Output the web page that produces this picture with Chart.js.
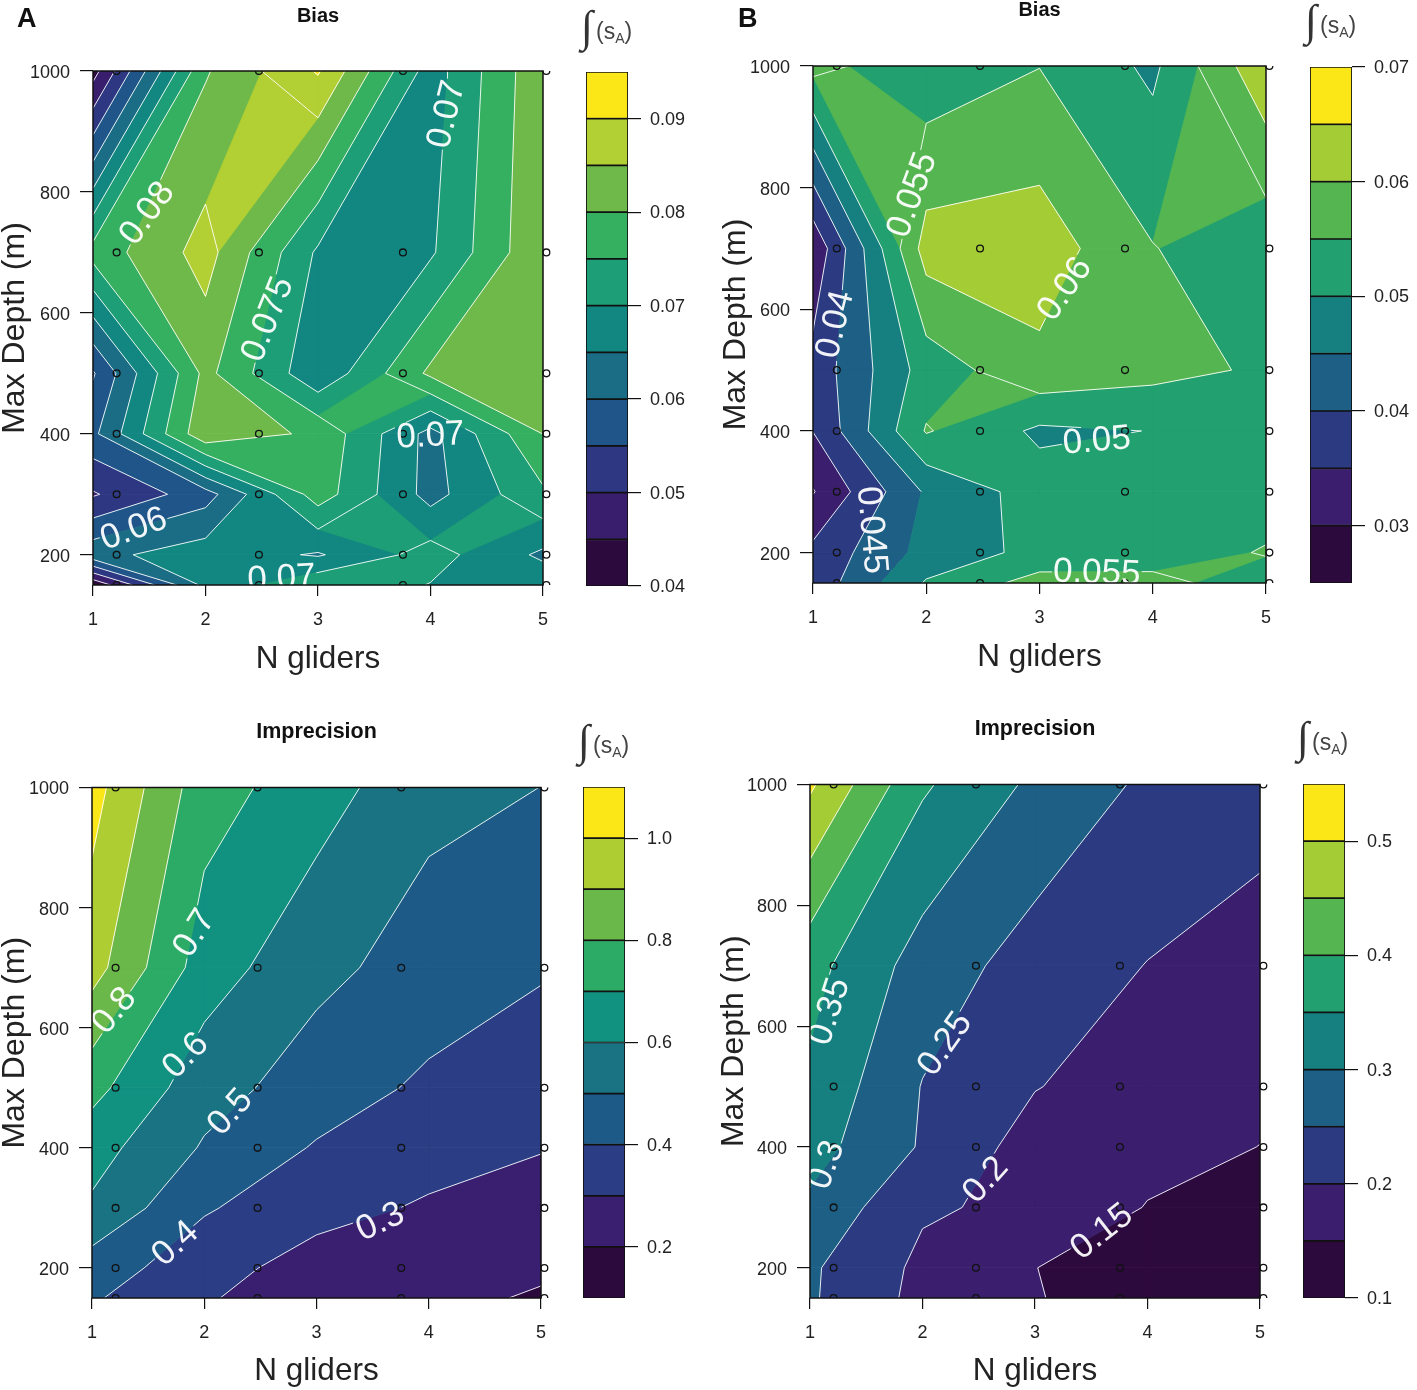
<!DOCTYPE html>
<html><head><meta charset="utf-8">
<script src="https://cdn.jsdelivr.net/npm/chart.js@4"></script>
<style>
html,body{margin:0;padding:0;background:#fff;overflow:hidden}
body{width:1417px;height:1390px;position:relative;font-family:"Liberation Sans",Arial,sans-serif;color:#222}
canvas{position:absolute;filter:blur(.35px)}
.t{position:absolute;white-space:nowrap;line-height:1}
</style></head><body>
<script>
// grid of the runs
const nGliders=[1,2,3,4,5];
const maxDepths=[1000,700,500,400,300,200,150];
// sample markers
const markerX=[1.21,2.475,3.755,5.03];
const markerY=[1000,700,500,400,300,200,150];

// values, one row per depth (maxDepths), one column per glider count
const zBiasA=[
[.043,.0795,.0905,.0675,.084],
[.077,.087,.0692,.0693,.0845],
[.0545,.0815,.066,.081,.083],
[.0588,.0839,.0788,.0633,.0801],
[.0495,.0578,.0775,.0632,.0741],
[.0635,.0677,.0645,.0721,.064],
[.041,.0665,.0739,.0698,.0685]];
const zBiasB=[
[.0565,.0517,.0549,.049,.064],
[.031,.0622,.0627,.0552,.0515],
[.0369,.0522,.0587,.0566,.0543],
[.0351,.0554,.0491,.0501,.053],
[.0297,.0457,.0523,.053,.053],
[.0363,.0467,.0515,.053,.0553],
[.0368,.0505,.057,.0562,.0529]];
const zImpA=[
[1.038,.742,.647,.525,.4995],
[.94,.651,.525,.46,.41],
[.732,.539,.454,.381,.342],
[.64,.49,.391,.34,.304],
[.584,.41,.335,.288,.265],
[.452,.34,.257,.25,.215],
[.411,.31,.24,.225,.19]];
const zImpB=[
[.508,.357,.29,.241,.22],
[.3675,.278,.228,.1987,.179],
[.34,.248,.202,.175,.16],
[.32,.245,.178,.165,.1495],
[.29,.206,.189,.148,.13],
[.257,.189,.1505,.13,.115],
[.256,.185,.153,.122,.11]];

// band edges
const levelsBiasA=[.04,.045,.05,.055,.06,.065,.07,.075,.08,.085,.09,.095];
const levelsBiasB=[.025,.03,.035,.04,.045,.05,.055,.06,.065,.07];
const levelsImpA=[.1,.2,.3,.4,.5,.6,.7,.8,.9,1.0,1.1];
const levelsImpB=[.1,.15,.2,.25,.3,.35,.4,.45,.5,.55];
// colour-bar tick labels
const barTicksBiasA=[.04,.05,.06,.07,.08,.09];
const barTicksBiasB=[.03,.04,.05,.06,.07];
const barTicksImpA=[.2,.4,.6,.8,1.0];
const barTicksImpB=[.1,.2,.3,.4,.5];
const xTicks=[1,2,3,4,5];
const yTicks=[200,400,600,800,1000];

// contour labels: text, level, x, y, angle
const labelsBiasA=[["0.08",.08,1.485,764,-54],["0.075",.075,2.557,589,-68],["0.07",.07,4.146,928,-76],["0.07",.07,4.0,396,-3],["0.06",.06,1.365,242,-20],["0.07",.07,2.676,160,-3]];
const labelsBiasB=[["0.055",.055,1.88,788,-70],["0.06",.06,3.227,633,-55],["0.04",.04,1.2,575,-76],["0.05",.05,3.506,383,-5],["0.045",.045,1.514,237,85],["0.055",.055,3.506,166,2]];
const labelsImpA=[["0.8",.8,1.2,628,-50],["0.7",.7,1.916,757,-58],["0.6",.6,1.837,553,-45],["0.5",.5,2.235,459,-48],["0.4",.4,1.745,240,-42],["0.3",.3,3.57,276,-25]];
const labelsImpB=[["0.35",.35,1.176,624,-72],["0.25",.25,2.204,570,-55],["0.3",.3,1.148,370,-70],["0.2",.2,2.564,345,-48],["0.15",.15,3.596,259,-38]];

const pal9=["#2d0a3e","#3b1f6e","#2c3a82","#1d5f85","#168080","#22a070","#55b651","#a3cc35","#fbe718"];
const pal10=["#2d0a3e","#3a1f70","#2b3d84","#1e5a87","#1a7383","#119180","#2bab66","#6ab84a","#aecd33","#fbe718"];
const pal11=["#2d0a3e","#3a1e6e","#2e3882","#20558a","#1b6c85","#128680","#1e9e76","#35b060","#6eb94a","#b2cf33","#fbe718"];

const panels=[
 {z:zBiasA,levels:levelsBiasA,pal:pal11,barTicks:barTicksBiasA,labels:labelsBiasA,fmt:2,title:"Bias",
  plot:{l:93,r:543,t:72,b:585},bar:{l:586,r:628,t:72,b:586},titleCy:17,xlCy:657,ylCx:15,sym:[582,8]},
 {z:zBiasB,levels:levelsBiasB,pal:pal9,barTicks:barTicksBiasB,labels:labelsBiasB,fmt:2,title:"Bias",
  hide:[[.045,1.4,2.1,150,345]],
  plot:{l:813,r:1266,t:67,b:583},bar:{l:1310,r:1352,t:67,b:583},titleCy:11,xlCy:655,ylCx:736,sym:[1306,2]},
 {z:zImpA,levels:levelsImpA,pal:pal10,barTicks:barTicksImpA,labels:labelsImpA,fmt:1,title:"Imprecision",
  plot:{l:92,r:541,t:787,b:1298},bar:{l:583,r:625,t:787,b:1298},titleCy:732,xlCy:1369,ylCx:15,sym:[579,722]},
 {z:zImpB,levels:levelsImpB,pal:pal9,barTicks:barTicksImpB,labels:labelsImpB,fmt:1,title:"Imprecision",
  plot:{l:810,r:1260,t:784,b:1298},bar:{l:1303,r:1345,t:784,b:1298},titleCy:729,xlCy:1369,ylCx:734,sym:[1298,719]}
];

const FONT='"Liberation Sans",Arial,sans-serif';
const measure=document.createElement('canvas').getContext('2d');

function lerp(a,b,t){return a+(b-a)*t}
function cellCorners(z,i,j){ // counter-clockwise from lower-left
  const xl=nGliders[i],xh=nGliders[i+1],yh=maxDepths[j],yl=maxDepths[j+1];
  return [{x:xl,y:yl,v:z[j+1][i]},{x:xh,y:yl,v:z[j+1][i+1]},{x:xh,y:yh,v:z[j][i+1]},{x:xl,y:yh,v:z[j][i]}];
}
// band polygon of one cell: walk round the cell's edge
function bandPolygon(c,lo,hi){
  const out=[];
  for(let k=0;k<4;k++){
    const a=c[k],b=c[(k+1)%4];
    if(a.v>=lo&&a.v<hi)out.push({x:a.x,y:a.y});
    const cuts=[];
    [lo,hi].forEach(L=>{
      if((a.v<L&&b.v>=L)||(a.v>=L&&b.v<L)){const t=(L-a.v)/(b.v-a.v);cuts.push(t)}
    });
    cuts.sort((p,q)=>p-q).forEach(t=>out.push({x:lerp(a.x,b.x,t),y:lerp(a.y,b.y,t)}));
  }
  if(out.length>=3)out.push({...out[0]});
  return out;
}
function contourSegments(z,L){
  const segs=[];
  for(let j=0;j<maxDepths.length-1;j++)for(let i=0;i<nGliders.length-1;i++){
    const c=cellCorners(z,i,j),pts=[];
    for(let k=0;k<4;k++){
      const a=c[k],b=c[(k+1)%4];
      if((a.v<L)!==(b.v<L)){const t=(L-a.v)/(b.v-a.v);pts.push({x:lerp(a.x,b.x,t),y:lerp(a.y,b.y,t),e:k})}
    }
    if(pts.length===2)segs.push([pts[0],pts[1]]);
    else if(pts.length===4){
      const mid=(c[0].v+c[1].v+c[2].v+c[3].v)/4;
      const aHigh=c[0].v>=L;
      // keep high corners apart when the centre is low, low corners apart when it is high
      if(aHigh===(mid<L)){segs.push([pts[3],pts[0]]);segs.push([pts[1],pts[2]])}
      else{segs.push([pts[0],pts[1]]);segs.push([pts[2],pts[3]])}
    }
  }
  return segs;
}
// remove the stretch of a contour that lies under its own label
function cutByLabels(seg,L,p){
  const toPx=q=>({x:p.plot.l+(q.x-1)/4*(p.plot.r-p.plot.l),y:p.plot.t+(1000-q.y)/850*(p.plot.b-p.plot.t)});
  let ranges=[[0,1]];
  const A=toPx(seg[0]),B=toPx(seg[1]);
  p.labels.forEach(lb=>{
    if(Math.abs(lb[1]-L)>1e-9)return;
    measure.font='35px '+FONT;
    const hw=measure.measureText(lb[0]).width/2+1,hh=15;
    const C=toPx({x:lb[2],y:lb[3]}),r=lb[4]*Math.PI/180,cs=Math.cos(r),sn=Math.sin(r);
    const loc=P=>({u:(P.x-C.x)*cs+(P.y-C.y)*sn,v:-(P.x-C.x)*sn+(P.y-C.y)*cs});
    const a=loc(A),b=loc(B);
    let t0=0,t1=1,ok=true;
    [[a.u,b.u,hw],[a.v,b.v,hh]].forEach(([s,e,h])=>{
      const d=e-s;
      if(Math.abs(d)<1e-9){if(Math.abs(s)>h)ok=false;return}
      let ta=(-h-s)/d,tb=(h-s)/d;if(ta>tb)[ta,tb]=[tb,ta];
      t0=Math.max(t0,ta);t1=Math.min(t1,tb);
    });
    if(!ok||t0>=t1)return;
    const next=[];
    ranges.forEach(([s,e])=>{
      if(t0>s)next.push([s,Math.min(e,t0)]);
      if(t1<e)next.push([Math.max(s,t1),e]);
    });
    ranges=next.filter(q=>q[1]>q[0]);
  });
  return ranges.map(([s,e])=>[{x:lerp(seg[0].x,seg[1].x,s),y:lerp(seg[0].y,seg[1].y,s)},{x:lerp(seg[0].x,seg[1].x,e),y:lerp(seg[0].y,seg[1].y,e)}]);
}
function hidden(seg,L,p){
  return (p.hide||[]).some(h=>{
    if(Math.abs(h[0]-L)>1e-9)return false;
    const mx=(seg[0].x+seg[1].x)/2,my=(seg[0].y+seg[1].y)/2;
    return mx>=h[1]&&mx<=h[2]&&my>=h[3]&&my<=h[4];
  });
}

const panelDecor={
  id:'panelDecor',
  afterDatasetsDraw(chart,args,opts){
    const {ctx,chartArea:a,scales:{x,y}}=chart;
    ctx.save();
    ctx.beginPath();ctx.rect(a.left,a.top,a.right-a.left,a.bottom-a.top);ctx.clip();
    ctx.fillStyle='rgba(255,255,255,.94)';
    ctx.font='35px '+FONT;ctx.textAlign='center';ctx.textBaseline='middle';
    opts.labels.forEach(lb=>{
      ctx.save();
      ctx.translate(x.getPixelForValue(lb[2]),y.getPixelForValue(lb[3]));
      ctx.rotate(lb[4]*Math.PI/180);
      ctx.fillText(lb[0],0,0);
      ctx.restore();
    });
    ctx.restore();
    ctx.save();
    ctx.strokeStyle='#111';ctx.lineWidth=1.5;
    ctx.strokeRect(a.left,a.top,a.right-a.left,a.bottom-a.top);
    ctx.restore();
  }
};

function addCanvas(l,t,w,h){
  const c=document.createElement('canvas');
  c.width=w;c.height=h;c.style.left=l+'px';c.style.top=t+'px';c.style.width=w+'px';c.style.height=h+'px';
  document.body.appendChild(c);return c;
}
function addText(txt,l,t,css){
  const d=document.createElement('div');d.className='t';d.innerHTML=txt;
  d.style.cssText+=css||'';d.style.left=l+'px';d.style.top=t+'px';document.body.appendChild(d);
}

panels.forEach(p=>{
  const rightPad=24;
  const left=p.ylCx-16,top=Math.max(0,p.titleCy-12),right=p.plot.r+rightPad,bottom=p.xlCy+18;
  const W=right-left,H=bottom-top;
  const datasets=[];
  // markers on top
  const pts=[];markerY.forEach(y=>markerX.forEach(x=>pts.push({x,y})));
  datasets.push({type:'scatter',data:pts,showLine:false,pointRadius:3.4,pointBorderWidth:1.3,
    pointBorderColor:'#111',pointBackgroundColor:'rgba(0,0,0,0)',order:0,clip:{left:0,top:0,right:12,bottom:0}});
  // contour lines
  p.levels.forEach(L=>{
    const data=[];
    contourSegments(p.z,L).forEach(s=>{
      if(hidden(s,L,p))return;
      cutByLabels(s,L,p).forEach(q=>{data.push(q[0],q[1],{x:q[1].x,y:null})});
    });
    if(data.length)datasets.push({type:'line',data,spanGaps:false,borderColor:'rgba(255,255,255,.88)',borderWidth:1,
      pointRadius:0,fill:false,tension:0,order:1});
  });
  // filled bands: higher bands are painted last
  for(let j=0;j<maxDepths.length-1;j++)for(let i=0;i<nGliders.length-1;i++){
    const c=cellCorners(p.z,i,j);
    for(let b=0;b<p.levels.length-1;b++){
      const poly=bandPolygon(c,p.levels[b],p.levels[b+1]);
      if(poly.length>=4)datasets.push({type:'line',data:poly,fill:'shape',backgroundColor:p.pal[b],borderColor:p.pal[b],
        borderWidth:.8,pointRadius:0,tension:0,order:100-b});
    }
  }
  const tickFont={family:FONT,size:18};
  new Chart(addCanvas(left,top,W,H),{
    type:'line',
    data:{datasets},
    plugins:[panelDecor],
    options:{
      responsive:false,animation:false,devicePixelRatio:1,events:[],
      layout:{padding:{left:0,right:rightPad,top:0,bottom:0}},
      plugins:{legend:{display:false},tooltip:{enabled:false},
        title:{display:true,text:p.title,fullSize:false,color:'#111',font:{family:FONT,size:p.title==='Bias'?20:21.5,weight:'bold',lineHeight:1},
          padding:{top:p.titleCy-top-10.5,bottom:p.plot.t-p.titleCy-10.5}},
        panelDecor:{labels:p.labels}},
      scales:{
        x:{type:'linear',min:1,max:5,
          afterBuildTicks:s=>{s.ticks=xTicks.map(v=>({value:v}))},
          afterFit:s=>{s.height=H-(p.plot.b-top)},
          grid:{drawOnChartArea:false,drawTicks:true,tickLength:11,color:'#111',lineWidth:1.2},
          border:{display:false},
          ticks:{font:tickFont,color:'#222',padding:13,maxRotation:0,autoSkip:false,callback:v=>String(v)},
          title:{display:true,text:'N gliders',color:'#222',padding:0,font:{family:FONT,size:31.5,lineHeight:1}}},
        y:{type:'linear',min:150,max:1000,
          afterBuildTicks:s=>{s.ticks=yTicks.map(v=>({value:v}))},
          afterFit:s=>{s.width=p.plot.l-left},
          grid:{drawOnChartArea:false,drawTicks:true,tickLength:13,color:'#111',lineWidth:1.2},
          border:{display:false},
          ticks:{font:tickFont,color:'#222',padding:10,labelOffset:2,autoSkip:false,callback:v=>String(v)},
          title:{display:true,text:'Max Depth (m)',color:'#222',padding:0,font:{family:FONT,size:32,lineHeight:1}}}
      }
    }
  });
  // colour bar
  const bw=p.bar.r-p.bar.l,bh=p.bar.b-p.bar.t,cw=bw+85,pad=30;
  const barSets=[];
  for(let b=0;b<p.levels.length-1;b++){
    barSets.push({data:[[p.levels[b],p.levels[b+1]]],backgroundColor:p.pal[b],borderColor:'#111',borderWidth:1.2,borderSkipped:false,
      barPercentage:1,categoryPercentage:1,grouped:false});
  }
  new Chart(addCanvas(p.bar.l-2,p.bar.t-pad,cw+2,bh+2*pad),{
    type:'bar',
    data:{labels:[''],datasets:barSets},
    options:{
      responsive:false,animation:false,devicePixelRatio:1,events:[],
      layout:{padding:{left:2,right:0,top:pad,bottom:pad}},
      plugins:{legend:{display:false},tooltip:{enabled:false},title:{display:false}},
      scales:{
        x:{display:false},
        y:{position:'right',min:p.levels[0],max:p.levels[p.levels.length-1],
          afterBuildTicks:s=>{s.ticks=p.barTicks.map(v=>({value:v}))},
          afterFit:s=>{s.width=cw-bw},
          grid:{drawOnChartArea:false,drawTicks:true,tickLength:13,color:'#111',lineWidth:1.2},
          border:{display:false},
          ticks:{font:tickFont,color:'#222',padding:9,labelOffset:1,autoSkip:false,callback:v=>v.toFixed(p.fmt)}}
      }
    }
  });
  // the colour-bar caption
  addText('&#8747;',p.sym[0]-1,p.sym[1]-7,'font:44px "Liberation Serif",serif;color:#333');
  addText('(s<sub style="font-size:14px;vertical-align:-4px">A</sub>)',p.sym[0]+14,p.sym[1]+10,'font:23px '+FONT+';color:#444');
});
addText('A',17,3,'font:bold 27px '+FONT+';color:#111');
addText('B',738,3,'font:bold 27px '+FONT+';color:#111');
</script>
</body></html>
